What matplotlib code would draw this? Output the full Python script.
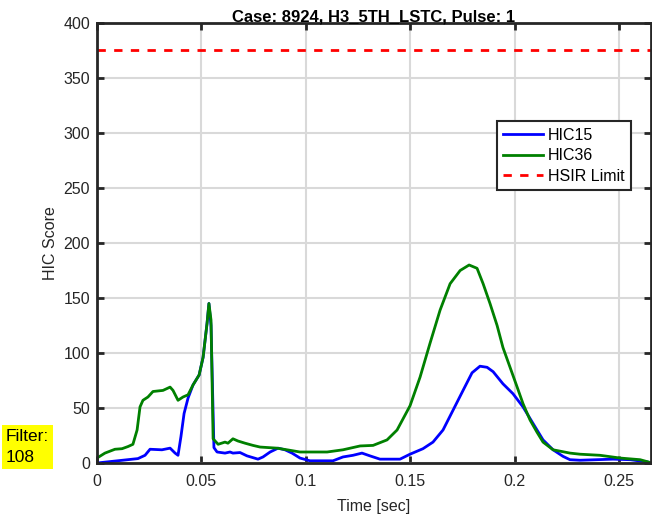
import matplotlib.pyplot as plt
import numpy as np

plt.rcParams['font.family'] = ['Liberation Sans', 'DejaVu Sans']

# HIC15 (blue)
t15 = [0, 0.0196, 0.023, 0.0254, 0.0311, 0.035, 0.0374, 0.0388, 0.0402, 0.0417,
       0.0436, 0.046, 0.0489, 0.0508, 0.0527, 0.0536, 0.0546, 0.056, 0.0575, 0.0613,
       0.0637, 0.0651, 0.0685, 0.0718, 0.0771, 0.0795, 0.0829, 0.0867, 0.09, 0.0934,
       0.0972, 0.102, 0.113, 0.1178, 0.1226, 0.1269, 0.1307, 0.1355, 0.1451, 0.1499,
       0.1561, 0.1609, 0.1657, 0.1705, 0.1753, 0.1796, 0.1834, 0.1868, 0.1897, 0.1944,
       0.1992, 0.204, 0.2088, 0.2136, 0.2184, 0.2232, 0.2265, 0.2313, 0.2471, 0.2553,
       0.2634]
hic15 = [0, 4, 7, 12.5, 12, 13.5, 9, 7, 24, 45,
         59, 71, 80, 96, 127, 145, 125, 14, 10, 9,
         10, 9, 9.5, 6.5, 3.5, 5.5, 10, 13.5, 12, 9,
         4.5, 2, 2, 5.5, 7, 9, 6.5, 3.5, 3.5, 8,
         13, 19, 30, 48, 66, 82, 88, 87, 83, 72,
         63, 51, 36, 21, 12, 6, 3, 2.5, 3.5, 3,
         1]

# HIC36 (green)
t36 = [0, 0.0038, 0.0086, 0.012, 0.0149, 0.0172, 0.0192, 0.0206, 0.022, 0.0244,
       0.0268, 0.0316, 0.035, 0.0364, 0.0388, 0.0412, 0.0436, 0.046, 0.0489, 0.0508,
       0.0527, 0.0536, 0.0546, 0.0556, 0.058, 0.0613, 0.0627, 0.0651, 0.0675, 0.0709,
       0.0747, 0.0781, 0.0862, 0.091, 0.0972, 0.102, 0.1102, 0.1178, 0.126, 0.1322,
       0.1389, 0.1437, 0.1499, 0.1547, 0.1595, 0.1643, 0.1691, 0.1739, 0.1782, 0.182,
       0.1849, 0.1882, 0.1916, 0.1944, 0.1978, 0.2012, 0.204, 0.2074, 0.2107, 0.2136,
       0.2184, 0.2265, 0.2313, 0.2409, 0.2505, 0.2601, 0.2658]
hic36 = [4.5, 9, 12.5, 13, 15, 17, 30, 51, 57, 60,
         65, 66, 69, 66, 57, 60, 62, 71, 80, 96,
         127, 145, 130, 22, 17, 19, 18, 22, 20, 18,
         16, 14.5, 13.5, 12, 10, 10, 10, 12, 15.5, 16,
         21, 30, 52, 78, 109, 139, 163, 175, 180, 177,
         163, 145, 125, 105, 87, 69, 54, 39, 28, 19,
         12, 9, 8, 7, 4.5, 3, 0]

hsir_limit = 375

fig = plt.figure(figsize=(6.52, 5.17), dpi=100)
ax = fig.add_axes([97/652, 54/517, 554/652, 440/517])

ax.plot(t15, hic15, color='#0000FF', lw=2, label='HIC15')
ax.plot(t36, hic36, color='#008000', lw=2, label='HIC36')
ax.axhline(hsir_limit, color='#FF0000', lw=2, ls=(0, (3, 3)), label='HSIR Limit')

ax.set_xlim(0, 0.2653)
ax.set_ylim(0, 400)
ax.set_xticks([0, 0.05, 0.1, 0.15, 0.2, 0.25])
ax.set_xticklabels(['0', '0.05', '0.1', '0.15', '0.2', '0.25'])
ax.set_yticks(np.arange(0, 401, 50))
ax.grid(color='#d9d9d9', lw=1.5)
ax.set_axisbelow(True)
for s in ax.spines.values():
    s.set_linewidth(2)
    s.set_color('#262626')
ax.tick_params(direction='in', length=5, width=2, top=True, right=True,
               labelsize=11.5, labelcolor='#262626', color='#262626')
ax.tick_params(axis='x', pad=8)
ax.tick_params(axis='y', pad=5)

ax.set_xlabel('Time [sec]', fontsize=11.5, color='#262626', labelpad=7)
ax.set_ylabel('HIC Score', fontsize=11.5, color='#262626', labelpad=4)
ax.set_title('Case: 8924, H3_5TH_LSTC, Pulse: 1', fontsize=12, fontweight='bold', pad=1)

leg = ax.legend(loc='upper left', bbox_to_anchor=(0.722, 0.777), fontsize=11.5,
                fancybox=False, edgecolor='#262626', framealpha=1,
                borderpad=0.4, labelspacing=0.35, handlelength=2.5, handletextpad=0.3,
                borderaxespad=0)
leg.get_frame().set_linewidth(1.5)

fig.text(6/652, 1 - 447/517, 'Filter:\n108', fontsize=12.5, va='center', ha='left',
         linespacing=1.45, bbox=dict(facecolor='#FFFF00', edgecolor='none', pad=3))

fig.savefig('out.png', dpi=100)
